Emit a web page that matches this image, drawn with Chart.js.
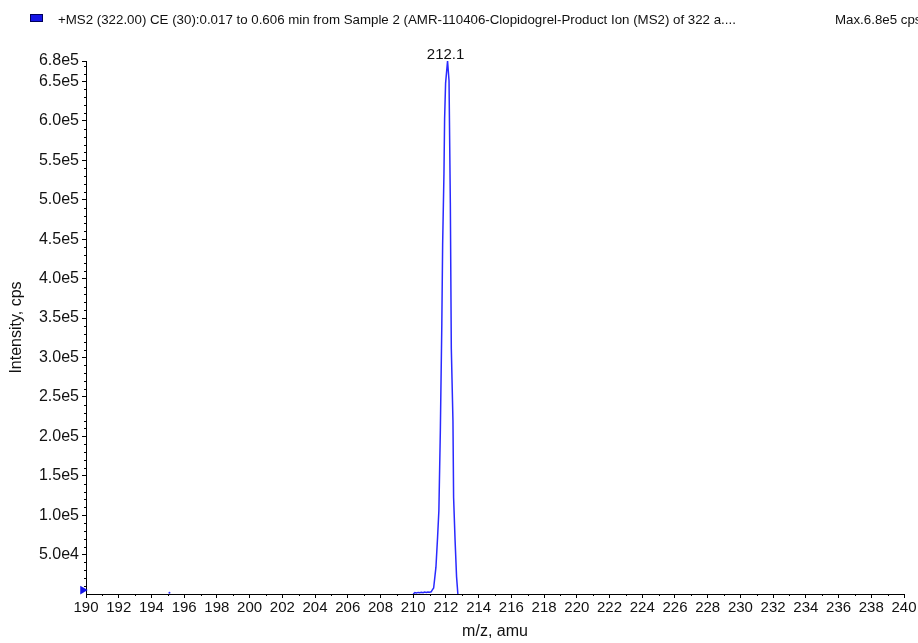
<!DOCTYPE html>
<html>
<head>
<meta charset="utf-8">
<title>Product ion spectrum</title>
<script src="https://cdn.jsdelivr.net/npm/chart.js@4.4.1/dist/chart.umd.min.js"></script>
<style>
  html, body { margin: 0; padding: 0; background: #fff; }
  #wrap { width: 918px; height: 643px; }
</style>
</head>
<body>
<div id="wrap"><canvas id="spectrum" width="918" height="643"></canvas></div>
<script>
const SCAN_TITLE = "+MS2 (322.00) CE (30):0.017 to 0.606 min from Sample 2 (AMR-110406-Clopidogrel-Product Ion (MS2) of 322 a....";
const X_TITLE = "m/z, amu";
const Y_TITLE = "Intensity, cps";
const FONT = "\"Liberation Sans\", Arial, sans-serif";
const TRACE_BLUE = "#2a2aff";

// profile trace around the 212 fragment
const mzValues = [
  210.0, 210.1, 210.2, 210.3, 210.4, 210.5, 210.6, 210.7, 210.8, 210.9, 211.0, 211.1,
  211.16, 211.25, 211.39, 211.49, 211.57, 211.66, 211.75, 211.80, 211.88, 211.92, 211.98,
  212.10, 212.19, 212.27, 212.33, 212.43, 212.47, 212.56, 212.65, 212.73
];
const intensityValues = [
  0, 1800, 1200, 2000, 1500, 2200, 1600, 2400, 1900, 2600, 2300, 2800,
  5000, 7600, 34000, 72000, 106000, 208000, 343000, 444000, 533000, 603000, 648000,
  676000, 651000, 496000, 311000, 220000, 122000, 68000, 22000, 0
];

// isolated blip further down the mass range
const strayMz = [195.1];
const strayIntensity = [1500];

// threshold marker on the intensity axis
const markerMz = [189.8];
const markerIntensity = [5000];

const xTickValues = [
  190, 192, 194, 196, 198, 200, 202, 204, 206, 208, 210, 212, 214,
  216, 218, 220, 222, 224, 226, 228, 230, 232, 234, 236, 238, 240
];
const yTickValues = [
  50000, 100000, 150000, 200000, 250000, 300000, 350000,
  400000, 450000, 500000, 550000, 600000, 650000
];

const X_MIN = 190;
const X_MAX = 240;
const Y_MAX = Math.max(...intensityValues);

const peakIdx = intensityValues.indexOf(Y_MAX);
const fmtExp = (v) => Number(v).toExponential(1).replace("e+", "e");

// header line: legend swatch, scan description and max intensity
const headerPlugin = {
  id: "scanHeader",
  afterDraw(chart) {
    const ctx = chart.ctx;
    ctx.save();
    ctx.fillStyle = "#1515e6";
    ctx.fillRect(30, 14, 13, 8);
    ctx.strokeStyle = "#00005a";
    ctx.lineWidth = 1;
    ctx.strokeRect(30.5, 14.5, 12, 7);
    ctx.fillStyle = "#111";
    ctx.font = "13.3px " + FONT;
    ctx.textBaseline = "middle";
    ctx.textAlign = "left";
    ctx.fillText(SCAN_TITLE, 58, 20);
    ctx.fillText("Max." + fmtExp(Y_MAX) + " cps", 835, 20);
    ctx.restore();
  }
};

// peak m/z above the apex
const peakLabelPlugin = {
  id: "peakLabel",
  afterDatasetsDraw(chart) {
    const { ctx, scales } = chart;
    const px = scales.x.getPixelForValue(mzValues[peakIdx]);
    const py = scales.y.getPixelForValue(intensityValues[peakIdx]);
    ctx.save();
    ctx.fillStyle = "#111";
    ctx.font = "15px " + FONT;
    ctx.textAlign = "center";
    ctx.textBaseline = "alphabetic";
    ctx.fillText(mzValues[peakIdx].toFixed(1), px - 2, py - 2);
    ctx.restore();
  }
};

// short minor ticks between the labelled ones
const minorTicksPlugin = {
  id: "minorTicks",
  afterDraw(chart) {
    const { ctx, scales } = chart;
    const xs = scales.x;
    const ys = scales.y;
    ctx.save();
    ctx.strokeStyle = "#000";
    ctx.lineWidth = 1;
    ctx.beginPath();
    for (let v = 10000; v < Y_MAX; v += 10000) {
      if (v % 50000 === 0) continue;
      const py = Math.round(ys.getPixelForValue(v)) + 0.5;
      ctx.moveTo(xs.left, py);
      ctx.lineTo(xs.left - 2, py);
    }
    for (let m = X_MIN + 1; m < X_MAX; m += 2) {
      const px = Math.round(xs.getPixelForValue(m)) + 0.5;
      ctx.moveTo(px, ys.bottom);
      ctx.lineTo(px, ys.bottom + 2);
    }
    ctx.stroke();
    ctx.restore();
  }
};

new Chart(document.getElementById("spectrum"), {
  type: "scatter",
  data: {
    datasets: [
      {
        label: "spectrum",
        data: mzValues.map((m, i) => ({ x: m, y: intensityValues[i] })),
        showLine: true,
        borderColor: TRACE_BLUE,
        borderWidth: 1.5,
        pointRadius: 0,
        tension: 0
      },
      {
        label: "stray",
        data: strayMz.map((m, i) => ({ x: m, y: strayIntensity[i] })),
        pointRadius: 1,
        pointBackgroundColor: TRACE_BLUE,
        pointBorderWidth: 0
      },
      {
        label: "threshold",
        data: markerMz.map((m, i) => ({ x: m, y: markerIntensity[i] })),
        clip: false,
        pointStyle: "triangle",
        rotation: 90,
        pointRadius: 5,
        pointBackgroundColor: "#1515e6",
        pointBorderColor: "#1515e6",
        pointBorderWidth: 0
      }
    ]
  },
  options: {
    responsive: false,
    animation: false,
    layout: { padding: { top: 61, right: 14, left: 0, bottom: 0 } },
    plugins: {
      legend: { display: false },
      tooltip: { enabled: false }
    },
    scales: {
      x: {
        type: "linear",
        min: X_MIN,
        max: X_MAX,
        afterBuildTicks: (scale) => {
          scale.ticks = xTickValues.map((v) => ({ value: v }));
        },
        afterFit: (scale) => {
          scale.height = 49;
        },
        ticks: {
          autoSkip: false,
          maxRotation: 0,
          minRotation: 0,
          padding: 1,
          color: "#111",
          font: { family: FONT, size: 15 }
        },
        grid: { drawOnChartArea: false, tickLength: 4, color: "#000" },
        border: { color: "#000", width: 1 },
        title: {
          display: true,
          text: X_TITLE,
          color: "#111",
          font: { family: FONT, size: 16 },
          padding: { top: 0, bottom: 2 }
        }
      },
      y: {
        min: 0,
        max: Y_MAX,
        afterBuildTicks: (scale) => {
          scale.ticks = yTickValues.concat([Y_MAX]).map((v) => ({ value: v }));
        },
        afterFit: (scale) => {
          scale.width = 86;
        },
        ticks: {
          autoSkip: false,
          padding: 3,
          color: "#111",
          font: { family: FONT, size: 16 },
          callback: (v) => fmtExp(v)
        },
        grid: { drawOnChartArea: false, tickLength: 4, color: "#000" },
        border: { color: "#000", width: 1 },
        title: {
          display: true,
          text: Y_TITLE,
          color: "#111",
          font: { family: FONT, size: 16 },
          padding: { top: 7, bottom: 0 }
        }
      }
    }
  },
  plugins: [headerPlugin, peakLabelPlugin, minorTicksPlugin]
});
</script>
</body>
</html>
